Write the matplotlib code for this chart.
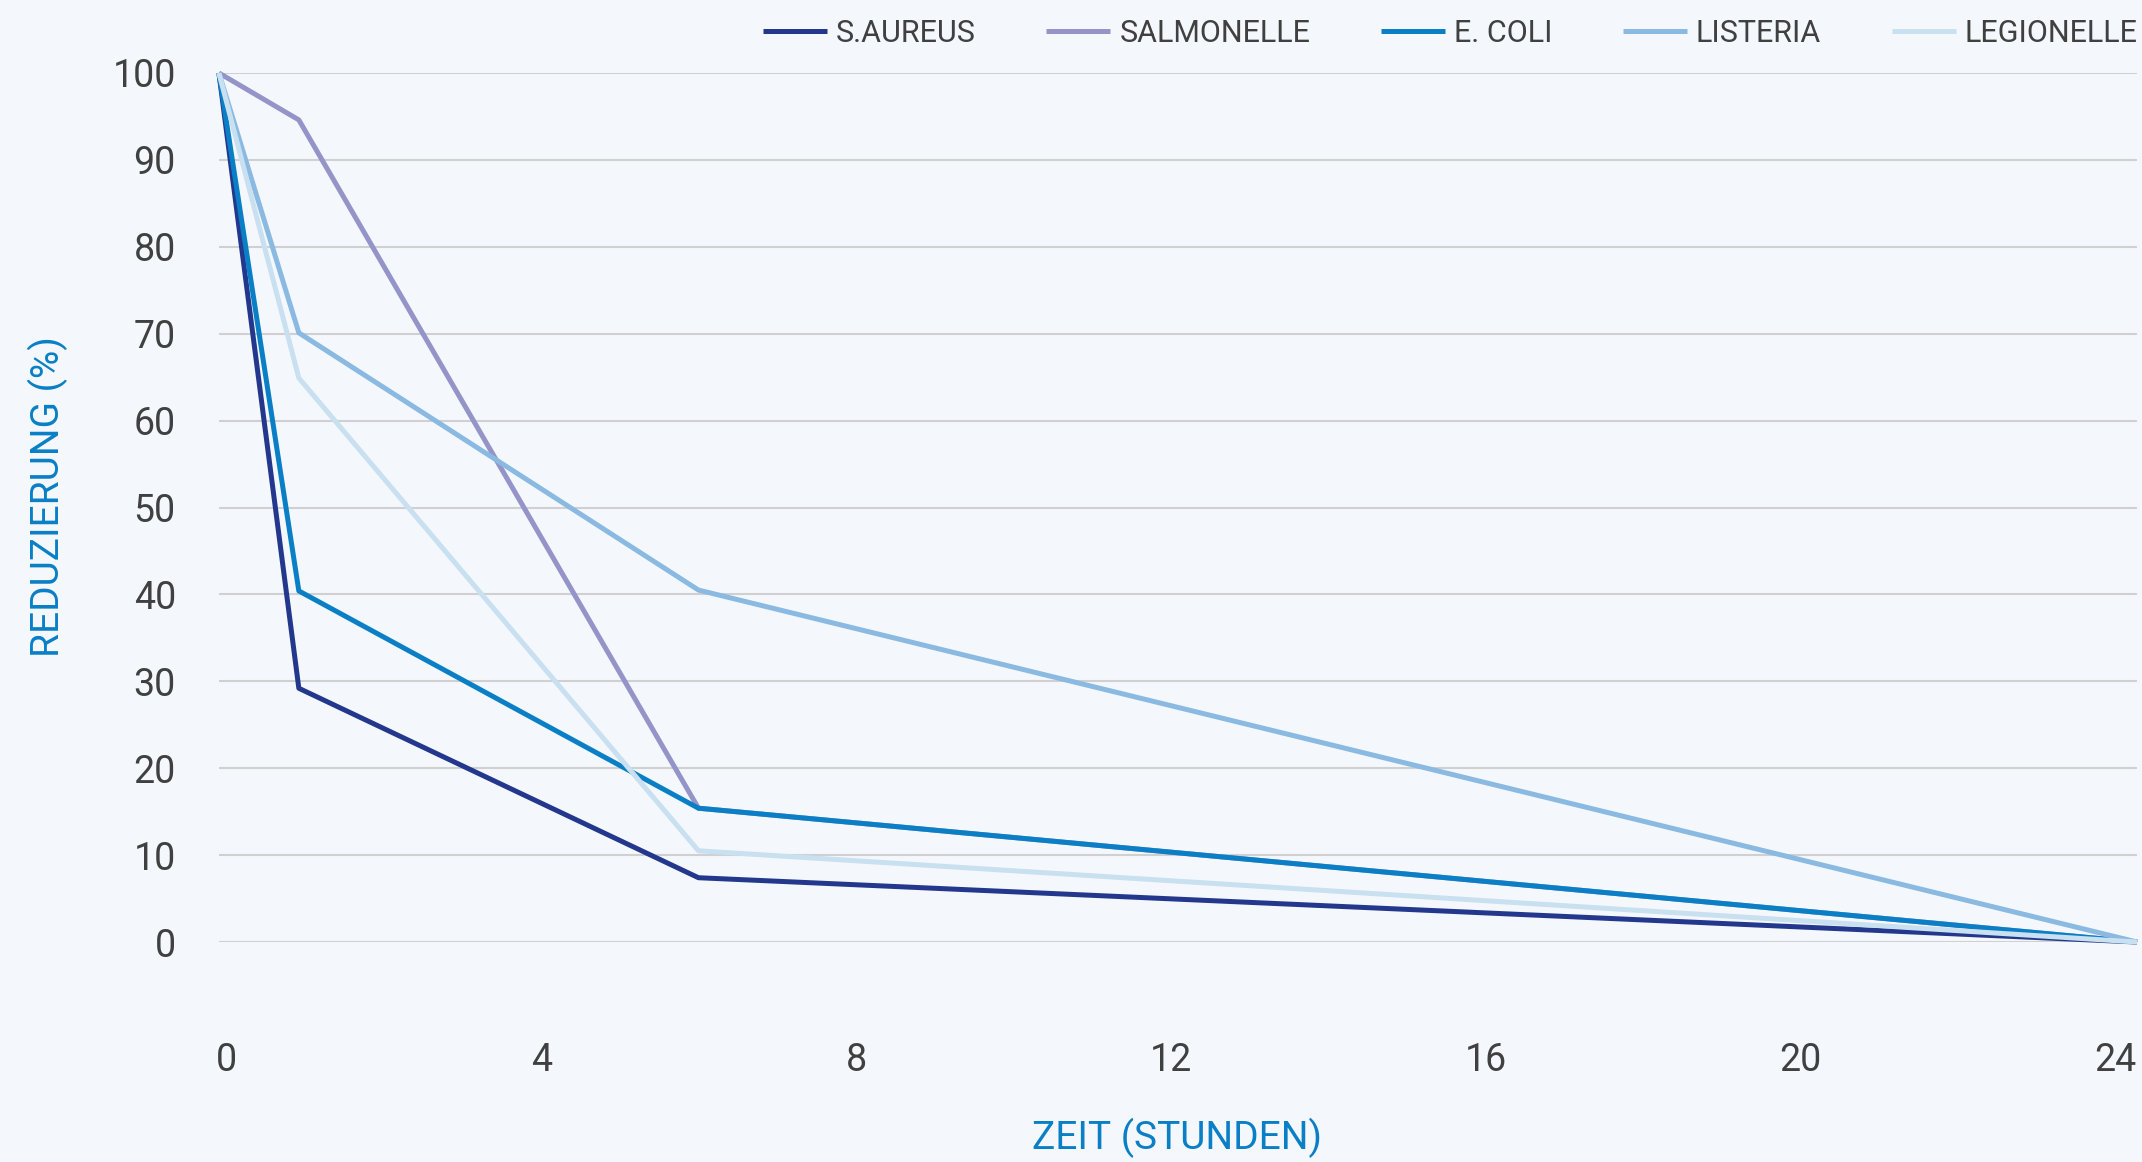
import matplotlib
matplotlib.use("Agg")
import matplotlib.pyplot as plt

plt.rcParams['font.family'] = ['Roboto', 'DejaVu Sans']

hours = [0, 1, 6, 24]
series_names = ["S.AUREUS", "SALMONELLE", "E. COLI", "LISTERIA", "LEGIONELLE"]
s_aureus = [100, 29.2, 7.4, 0]
salmonelle = [100, 94.6, 15.4, 0]
e_coli = [100, 40.4, 15.4, 0]
listeria = [100, 70.1, 40.5, 0]
legionelle = [100, 64.9, 10.5, 0]
x_ticks = [0, 4, 8, 12, 16, 20, 24]
y_ticks = [0, 10, 20, 30, 40, 50, 60, 70, 80, 90, 100]

colors = ["#23388c", "#9494c8", "#0a7fc6", "#8ab9e2", "#c8e0f0"]
bg = "#f4f8fc"
text_col = "#404040"
blue = "#0a7fc6"

fig = plt.figure(figsize=(21.42, 11.62), dpi=100, facecolor=bg)
ax = fig.add_axes([0.1022, 0.1893, 0.8955, 0.7479], facecolor=bg)

for name, vals, c in zip(series_names, [s_aureus, salmonelle, e_coli, listeria, legionelle], colors):
    ax.plot(hours, vals, color=c, lw=3.6, label=name, clip_on=False, solid_capstyle='butt', zorder=3)

ax.set_xlim(0, 24)
ax.set_ylim(0, 100)
ax.set_xticks(x_ticks)
ax.set_xticklabels([])
ax.set_yticks(y_ticks)
ax.yaxis.grid(True, color="#d0d0d0", lw=1.5)
ax.set_axisbelow(True)
for s in ax.spines.values():
    s.set_visible(False)
ax.tick_params(axis='both', length=0, labelsize=27, labelcolor=text_col)
ax.tick_params(axis='y', pad=31)

# tick labels drawn on a twin axis whose range is slightly inset, as in the reference
ax2 = ax.twiny()
ax2.set_xlim(-0.1017, 24.279)
ax2.xaxis.set_ticks_position('bottom')
ax2.xaxis.set_label_position('bottom')
ax2.set_xticks(x_ticks)
ax2.set_xticklabels([str(t) for t in x_ticks])
ax2.tick_params(axis='x', length=0, labelsize=27, labelcolor=text_col, pad=72)
for s in ax2.spines.values():
    s.set_visible(False)
ax2.patch.set_visible(False)

fig.text(0.5497, 24 / 1162, "ZEIT (STUNDEN)", ha='center', va='center', fontsize=28, color=blue)
fig.text(48 / 2142, 1 - 497 / 1162, "REDUZIERUNG (%)", ha='center', va='center', rotation=90,
         fontsize=28, color=blue)

leg = fig.legend(*ax.get_legend_handles_labels(), loc='center right', bbox_to_anchor=(0.998, 0.9716),
                 ncol=5, frameon=False, fontsize=22, handlelength=2.1, handletextpad=0.3,
                 columnspacing=2.3, borderpad=0, borderaxespad=0)
for t in leg.get_texts():
    t.set_color(text_col)

fig.savefig("out.png", dpi=100, facecolor=bg)
